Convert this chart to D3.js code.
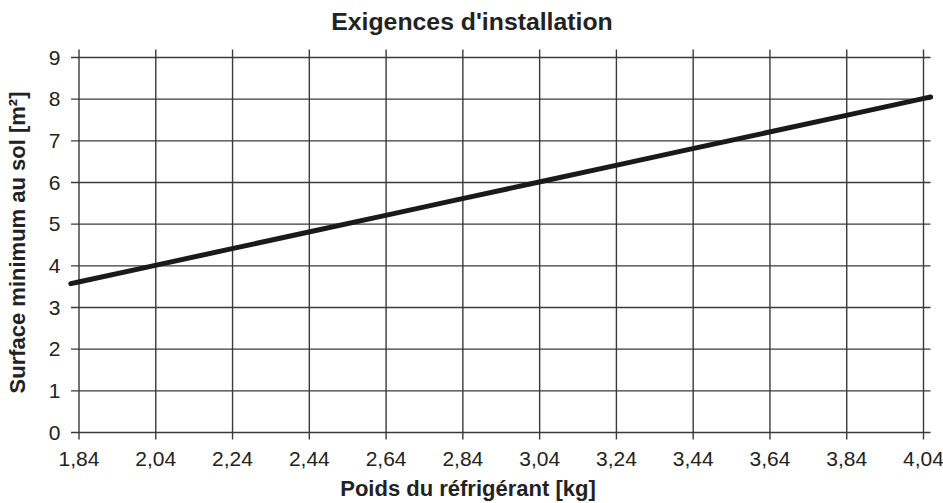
<!DOCTYPE html>
<html><head><meta charset="utf-8">
<script src="https://cdn.jsdelivr.net/npm/d3@7"></script>
<style>body{margin:0;background:#fff}text{font-family:"Liberation Sans",Arial,sans-serif}</style>
</head><body><svg id="c" width="943" height="503"></svg>
<script>
const title = "Exigences d'installation";
const xLabel = "Poids du réfrigérant [kg]";
const yLabel = "Surface minimum au sol [m²]";
const xTicks = [1.84, 2.04, 2.24, 2.44, 2.64, 2.84, 3.04, 3.24, 3.44, 3.64, 3.84, 4.04];
const yTicks = [0, 1, 2, 3, 4, 5, 6, 7, 8, 9];
const weights = [1.82, 1.84, 2.04, 2.24, 2.44, 2.64, 2.84, 3.04, 3.24, 3.44, 3.64, 3.84, 4.04, 4.06];
const areas   = [3.56, 3.60, 4.00, 4.40, 4.80, 5.20, 5.60, 6.00, 6.40, 6.80, 7.20, 7.60, 8.00, 8.04];

const svg = d3.select("#c");
const L = 78.5, R = 923, T = 57, B = 432;
const x = d3.scaleLinear().domain([1.84, 4.04]).range([L, R]);
const y = d3.scaleLinear().domain([0, 9]).range([B, T]);
const ext = 7.5;

const gx = svg.append("g").attr("transform", `translate(0,${B})`)
  .call(d3.axisBottom(x).tickValues(xTicks).tickFormat(d => d3.format(".2f")(d).replace(".", ","))
    .tickSizeInner(-(B - T) - ext).tickSizeOuter(0).tickPadding(19));
gx.selectAll(".tick line").attr("y1", ext);
const gy = svg.append("g").attr("transform", `translate(${L},0)`)
  .call(d3.axisLeft(y).tickValues(yTicks).tickSizeInner(-(R - L) - ext).tickSizeOuter(0).tickPadding(18));
gy.selectAll(".tick line").attr("x1", -ext);
[gx, gy].forEach(g => {
  g.select(".domain").remove();
  g.selectAll(".tick line").attr("stroke", "#3a3a3a").attr("stroke-width", 1.4);
  g.selectAll(".tick text").style("font-size", "21px").attr("fill", "#222");
});
gy.selectAll(".tick text").attr("dy", "0.34em");

const line = d3.line().x((d, i) => x(weights[i])).y(d => y(d));
svg.append("path").attr("d", line(areas)).attr("fill", "none")
  .attr("stroke", "#1a1a1a").attr("stroke-width", 5).attr("stroke-linecap", "round");

svg.append("text").attr("x", 472).attr("y", 30).attr("text-anchor", "middle")
  .style("font-size", "24.8px").attr("font-weight", "bold").attr("fill", "#222").text(title);
svg.append("text").attr("x", 468).attr("y", 496).attr("text-anchor", "middle")
  .style("font-size", "22px").attr("font-weight", "bold").attr("fill", "#222").text(xLabel);
svg.append("text").attr("transform", `translate(25,${(T + B) / 2 - 2}) rotate(-90)`).attr("text-anchor", "middle")
  .style("font-size", "22px").attr("font-weight", "bold").attr("fill", "#222").text(yLabel);
</script></body></html>
